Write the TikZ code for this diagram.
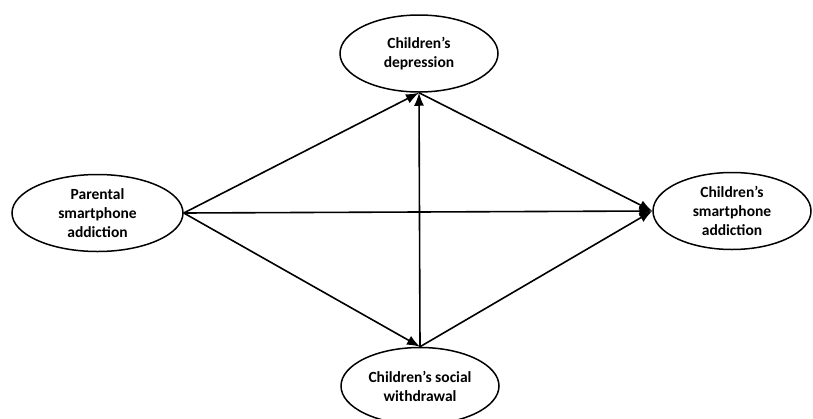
\documentclass[tikz,border=0pt]{standalone}
\usepackage{fontspec}
\setmainfont{Carlito}
\usepackage{tikz}
\usetikzlibrary{positioning,shapes.geometric,arrows.meta}

\begin{document}
\begin{tikzpicture}[x=1pt, y=-1pt,
    var/.style={ellipse, draw, line width=1.5pt, inner sep=0pt,
        minimum width=158pt, minimum height=77pt, align=center,
        font=\fontsize{15.5}{19}\selectfont\bfseries},
    path/.style={line width=1.6pt, -{Latex[length=13pt, width=10pt]}}]
    \useasboundingbox (0,0) rectangle (813,418);

    \node[var, minimum width=171pt] (par) at (97.5,213) {Parental\\smartphone\\addiction};
    \node[var] (dep) at (419,53.5) {Children’s\\depression};
    \node[var] (wit) at (420,386) {Children’s social\\withdrawal};
    \node[var] (add) at (732,211) {Children’s\\smartphone\\addiction};

    % direct and indirect paths
    \draw[path] (par.east) -- (dep.south);
    \draw[path] (par.east) -- (wit.north);
    \draw[path] (par.east) -- (add.west);
    \draw[path] (wit.north) -- (dep.south);
    \draw[path] (dep.south) -- (add.west);
    \draw[path] (wit.north) -- (add.west);
\end{tikzpicture}
\end{document}
